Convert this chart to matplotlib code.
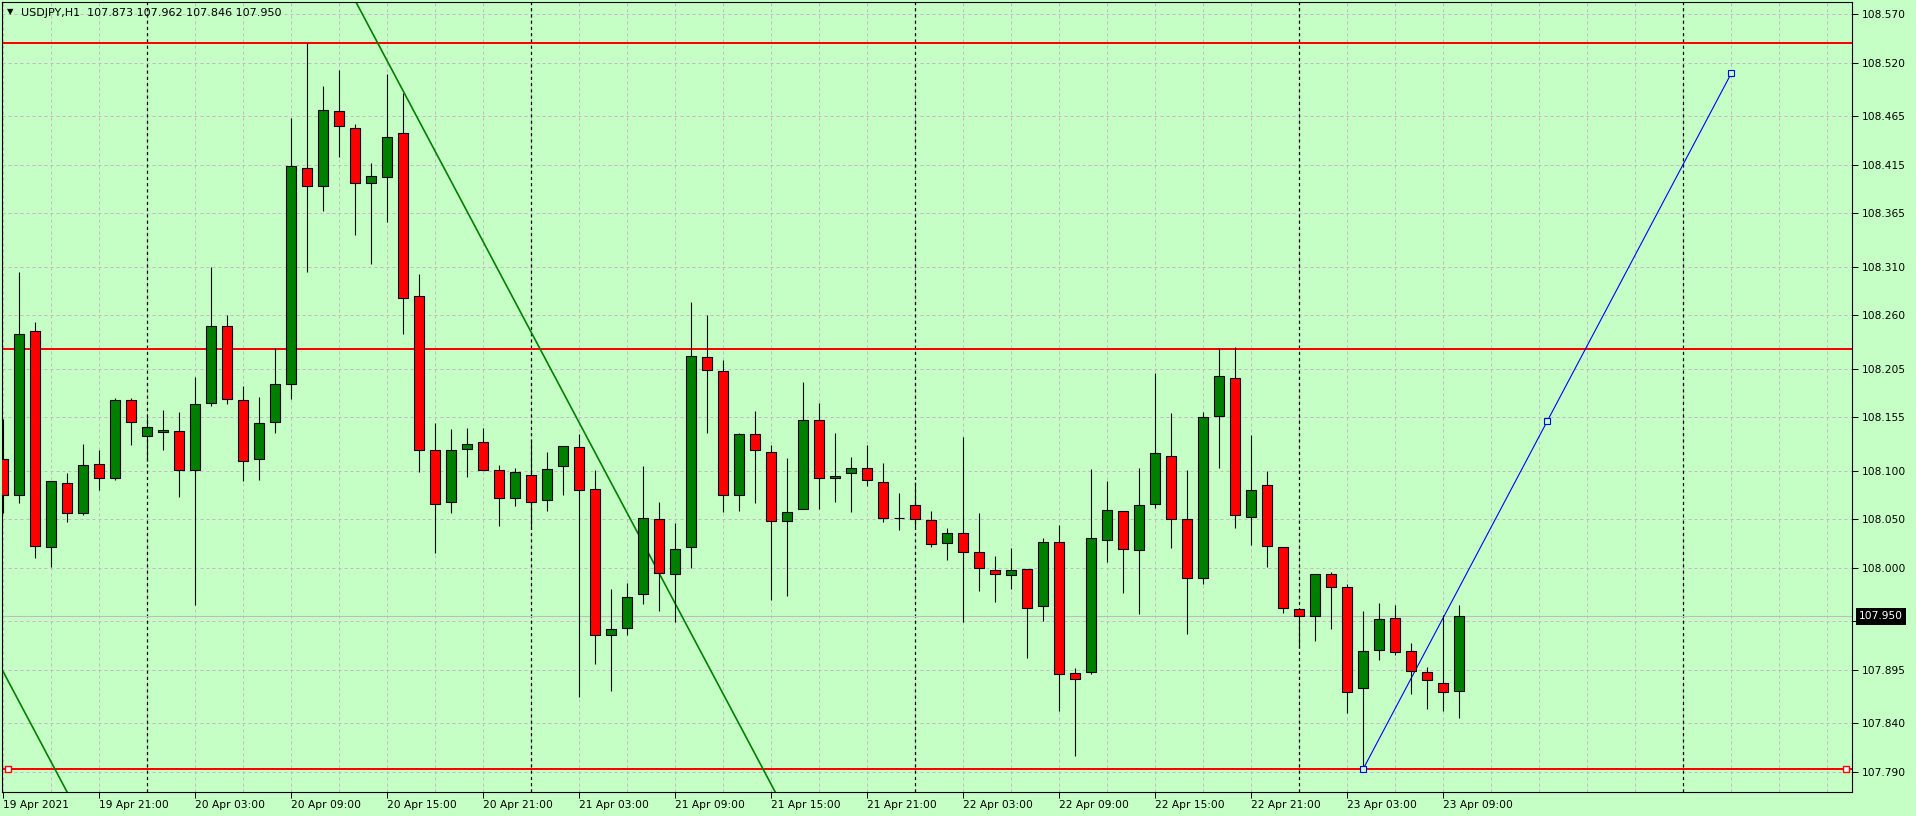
"""
USDJPY H1 chart, MetaTrader style.
"""

import numpy as np
import pandas as pd
import matplotlib.pyplot as plt

BG = '#C6FFC6'
GRID = '#c4b8c4'
UP = '#008000'
DOWN = '#FF0000'

# OHLC per hourly bar, starting 19 Apr 2021 15:00
opens = [108.112, 108.075, 108.244, 108.022, 108.087, 108.057, 108.107, 108.092, 108.173, 108.136,
         108.140, 108.141, 108.101, 108.170, 108.249, 108.173, 108.112, 108.150, 108.189, 108.412,
         108.393, 108.470, 108.453, 108.396, 108.402, 108.448, 108.280, 108.121, 108.068, 108.122,
         108.130, 108.101, 108.072, 108.096, 108.070, 108.105, 108.124, 108.081, 107.931, 107.938,
         107.973, 108.050, 107.994, 108.021, 108.217, 108.203, 108.075, 108.138, 108.119, 108.048,
         108.061, 108.152, 108.092, 108.098, 108.103, 108.088, 108.051, 108.065, 108.049, 108.026,
         108.036, 108.016, 107.998, 107.993, 107.999, 107.961, 108.027, 107.892, 107.893, 108.029,
         108.059, 108.018, 108.066, 108.115, 108.050, 107.990, 108.156, 108.195, 108.052, 108.085,
         108.022, 107.958, 107.951, 107.994, 107.980, 107.876, 107.916, 107.948, 107.914, 107.893,
         107.882, 107.873]
highs = [108.153, 108.304, 108.253, 108.089, 108.098, 108.128, 108.121, 108.175, 108.175, 108.155,
         108.162, 108.160, 108.196, 108.310, 108.260, 108.187, 108.176, 108.226, 108.463, 108.540,
         108.496, 108.512, 108.457, 108.417, 108.508, 108.489, 108.302, 108.149, 108.143, 108.144,
         108.144, 108.106, 108.103, 108.132, 108.119, 108.125, 108.138, 108.101, 107.978, 107.984,
         108.105, 108.068, 108.046, 108.274, 108.260, 108.214, 108.139, 108.161, 108.126, 108.113,
         108.191, 108.170, 108.139, 108.114, 108.126, 108.108, 108.077, 108.088, 108.059, 108.041,
         108.135, 108.056, 108.012, 108.020, 107.999, 108.031, 108.044, 107.897, 108.102, 108.089,
         108.059, 108.103, 108.201, 108.159, 108.101, 108.160, 108.226, 108.227, 108.137, 108.100,
         108.022, 107.958, 107.994, 107.996, 107.983, 107.956, 107.964, 107.962, 107.923, 107.898,
         107.952, 107.962]
lows = [108.057, 108.067, 108.010, 108.001, 108.047, 108.054, 108.080, 108.090, 108.126, 108.110,
        108.121, 108.073, 107.962, 108.167, 108.169, 108.089, 108.090, 108.139, 108.174, 108.304,
        108.367, 108.423, 108.343, 108.313, 108.356, 108.241, 108.099, 108.015, 108.056, 108.094,
        108.101, 108.043, 108.064, 108.041, 108.059, 108.075, 107.867, 107.901, 107.873, 107.931,
        107.963, 107.956, 107.944, 108.000, 108.139, 108.058, 108.059, 108.067, 107.967, 107.971,
        108.061, 108.061, 108.068, 108.058, 108.084, 108.047, 108.039, 108.042, 108.021, 108.008,
        107.944, 107.976, 107.965, 107.978, 107.907, 107.945, 107.853, 107.806, 107.891, 108.006,
        107.974, 107.953, 108.062, 108.020, 107.932, 107.983, 108.103, 108.041, 108.024, 108.001,
        107.954, 107.919, 107.925, 107.937, 107.851, 107.794, 107.905, 107.910, 107.870, 107.855,
        107.853, 107.846]
closes = [108.075, 108.241, 108.023, 108.089, 108.056, 108.106, 108.092, 108.173, 108.150, 108.145,
          108.142, 108.101, 108.169, 108.249, 108.174, 108.110, 108.149, 108.189, 108.414, 108.393,
          108.471, 108.455, 108.396, 108.403, 108.443, 108.278, 108.121, 108.066, 108.121, 108.128,
          108.101, 108.072, 108.099, 108.068, 108.102, 108.125, 108.080, 107.931, 107.937, 107.970,
          108.051, 107.995, 108.019, 108.218, 108.204, 108.075, 108.138, 108.121, 108.048, 108.058,
          108.152, 108.093, 108.095, 108.103, 108.090, 108.051, 108.051, 108.050, 108.025, 108.036,
          108.016, 108.000, 107.994, 107.998, 107.959, 108.027, 107.891, 107.886, 108.031, 108.060,
          108.019, 108.065, 108.118, 108.050, 107.990, 108.155, 108.197, 108.054, 108.080, 108.023,
          107.959, 107.951, 107.994, 107.980, 107.872, 107.914, 107.947, 107.913, 107.894, 107.885,
          107.872, 107.950]

start_time = '2021-04-19 15:00'
n_slots = 116  # bars incl. empty future space on the right

# price levels / drawn objects
y_ticks = [108.570, 108.520, 108.465, 108.415, 108.365, 108.310, 108.260, 108.205, 108.155,
           108.100, 108.050, 108.000, 107.945, 107.895, 107.840, 107.790]
red_levels = [108.5402, 108.2248, 107.7934]
channel_a = [(22.92, 108.555), (47.0, 107.808)]
channel_b = [(0.0, 107.893), (4.0, 107.769)]
blue_x = [85, 96.5, 108]
blue_y = [107.7934, 108.1512, 108.509]
last_price = 107.950
header = 'USDJPY,H1  107.873 107.962 107.846 107.950'

times = pd.date_range(start_time, periods=n_slots, freq='h')
n = len(opens)
x = np.arange(n)
o = np.array(opens)
c = np.array(closes)

fig = plt.figure(figsize=(19.16, 8.16), dpi=100, facecolor=BG)
ax = fig.add_axes([2 / 1916, 1 - 792 / 816, 1850 / 1916, 790 / 816])
ax.set_facecolor(BG)
ax.set_xlim(-0.08, 115.54)
ax.set_ylim(107.7694, 108.5823)

# grid
for yv in y_ticks:
    ax.axhline(yv, color=GRID, lw=0.72, ls=(0, (3, 3)), zorder=0.5)
for k in range(0, n_slots, 3):
    ax.axvline(k, color=GRID, lw=0.72, ls=(0, (3, 3)), zorder=0.5)

# day separators
for k in range(n_slots):
    if times[k].hour == 0:
        ax.axvline(k, color='black', lw=0.9, ls=(0, (2.5, 2.5)), zorder=0.6)

ax.axhline(last_price, color='#bdbdbd', lw=0.8, zorder=0.7)

# drawn objects
for lv in red_levels:
    ax.axhline(lv, color='#FF0000', lw=1.44, zorder=1)
ax.axline(channel_a[0], channel_a[1], color=UP, lw=1.2, zorder=1)
ax.axline(channel_b[0], channel_b[1], color=UP, lw=1.2, zorder=1)
ax.plot(blue_x[::2], blue_y[::2], color='#0000FF', lw=0.8, zorder=1.2)

# candles
ax.vlines(x, lows, highs, color='black', lw=0.8, zorder=3)
colors = np.where(c >= o, UP, DOWN)
ax.bar(x, np.abs(c - o), bottom=np.minimum(o, c), width=0.64, color=colors,
       edgecolor='black', linewidth=0.8, zorder=4)

# object anchors
ax.plot(blue_x, blue_y, ls='none', marker='s', ms=4, mec='#0000FF', mfc=BG, mew=0.8, zorder=5)
ax.plot([0.003, 0.997], [red_levels[2]] * 2, ls='none', marker='s', ms=4, mec='#FF0000',
        mfc='white', mew=1, zorder=5, transform=ax.get_yaxis_transform(), clip_on=False)

# axes
tick_idx = list(range(0, n, 6))
tick_labels = [times[k].strftime('%d %b %Y') if k == 0 else times[k].strftime('%d %b %H:%M')
               for k in tick_idx]
ax.set_xticks(tick_idx)
ax.set_xticklabels(tick_labels, ha='left')
ax.yaxis.tick_right()
ax.set_yticks(y_ticks)
ax.set_yticklabels([f'{v:.3f}' for v in y_ticks])
ax.tick_params(axis='both', length=4, width=0.75, colors='black', labelsize=7.7)
ax.tick_params(axis='y', pad=3)
ax.tick_params(axis='x', pad=1.5)
for s in ax.spines.values():
    s.set_color('black')
    s.set_linewidth(0.8)

ax.annotate(f'{last_price:.3f}', xy=(1, last_price), xycoords=('axes fraction', 'data'),
            xytext=(7, 0), textcoords='offset pixels', ha='left', va='center',
            color='white', fontsize=7.7, annotation_clip=False, zorder=10,
            bbox=dict(boxstyle='square,pad=0.3', fc='black', ec='none'))

fig.text(7 / 1916, 1 - 12 / 816, '▼', fontsize=6, va='center', ha='left')
fig.text(21 / 1916, 1 - 13 / 816, header, fontsize=8, va='center', ha='left')

fig.savefig('out.png', dpi=100, facecolor=BG)
